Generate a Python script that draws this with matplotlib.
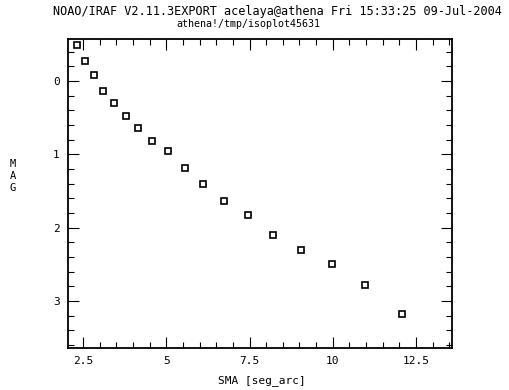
import matplotlib
matplotlib.use("Agg")
import matplotlib.pyplot as plt
from matplotlib.ticker import MultipleLocator

sma = [2.32, 2.56, 2.83, 3.10, 3.43, 3.79, 4.15, 4.57, 5.05, 5.56, 6.10,
       6.73, 7.45, 8.21, 9.05, 9.98, 10.97, 12.08]
mag = [-0.49, -0.27, -0.08, 0.14, 0.30, 0.48, 0.64, 0.81, 0.95, 1.18, 1.40,
       1.64, 1.82, 2.10, 2.30, 2.49, 2.78, 3.18]
mag_err = [0.02] * len(mag)
xticks = [2.5, 5, 7.5, 10, 12.5]
xticklabels = ["2.5", "5", "7.5", "10", "12.5"]
yticks = [0, 1, 2, 3]
yticklabels = ["0", "1", "2", "3"]

plt.rcParams['font.family'] = ['DejaVu Sans Mono']

fig = plt.figure(figsize=(5.1, 3.9), dpi=100)
ax = fig.add_axes([68/510, 1 - 348/390, (452-68)/510, (348-39)/390])

ax.errorbar(sma, mag, yerr=mag_err, fmt='s', ms=5, mfc='white', mec='black',
            mew=1.2, ecolor='black', elinewidth=1, capsize=0)
ax.plot(sma, mag, linestyle='none', marker='_', ms=4, mec='black', mew=1)

ax.set_xlim(2.05, 13.58)
ax.set_ylim(3.64, -0.575)
ax.set_xticks(xticks)
ax.set_xticklabels(xticklabels)
ax.set_yticks(yticks)
ax.set_yticklabels(yticklabels)
ax.xaxis.set_minor_locator(MultipleLocator(0.5))
ax.yaxis.set_minor_locator(MultipleLocator(0.2))
ax.tick_params(which='both', direction='in', top=True, right=True,
               labelsize=8, width=0.8, color='black', pad=6)
ax.tick_params(which='major', length=8)
ax.tick_params(which='minor', length=4)
for s in ax.spines.values():
    s.set_linewidth(1.3)

fig.text(277/510, 1 - 11/390, "NOAO/IRAF V2.11.3EXPORT acelaya@athena Fri 15:33:25 09-Jul-2004",
         ha='center', va='center', fontsize=8.6)
fig.text(248/510, 1 - 24/390, "athena!/tmp/isoplot45631",
         ha='center', va='center', fontsize=7.2)
fig.text(262/510, 1 - 381/390, "SMA [seg_arc]", ha='center', va='center', fontsize=8)
fig.text(13/510, 1 - 176/390, "M\nA\nG", ha='center', va='center', fontsize=7.5,
         linespacing=1.25)

fig.savefig("out.png", dpi=100)
